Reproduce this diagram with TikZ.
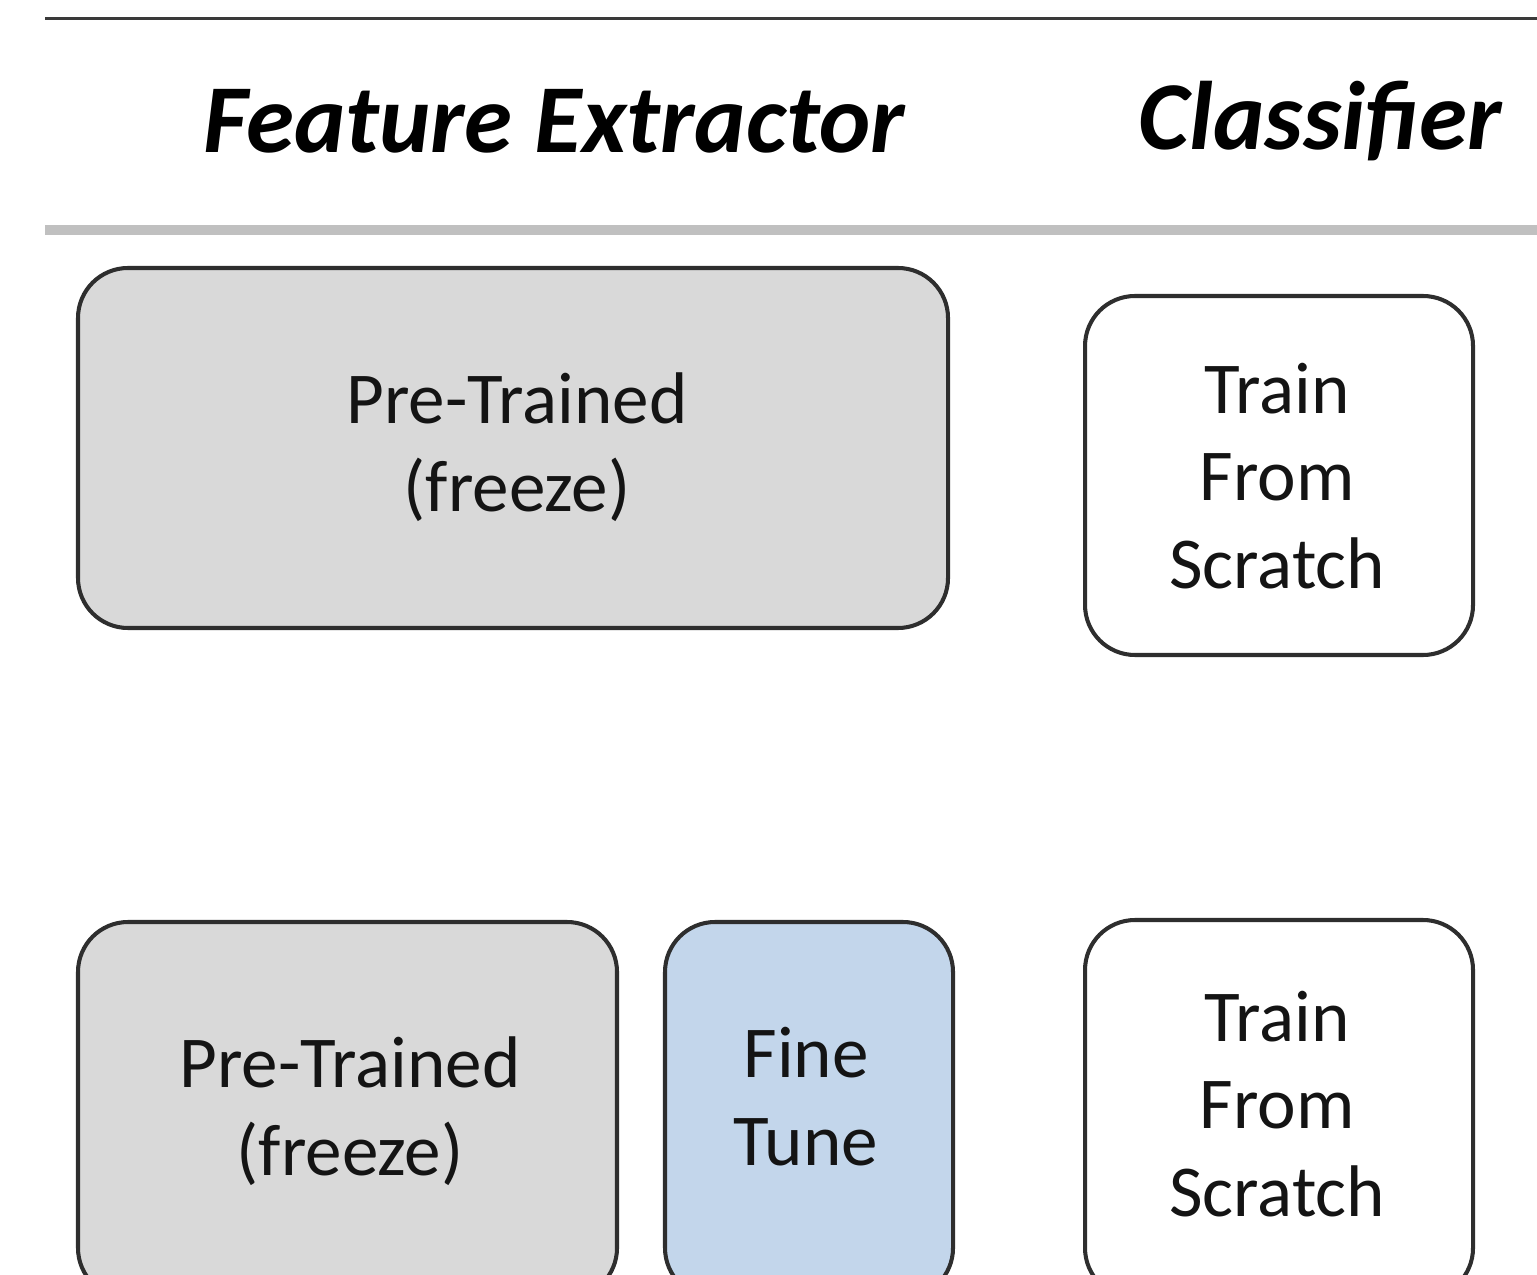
\documentclass[tikz,border=0pt]{standalone}
\usepackage{fontspec}
\setmainfont{Carlito}
\definecolor{ruledark}{HTML}{3A3A3A}
\definecolor{rulelight}{HTML}{C0C0C0}
\definecolor{frozen}{HTML}{D9D9D9}
\definecolor{tuned}{HTML}{C3D6EB}
\definecolor{edge}{HTML}{2E2E2E}
\tikzset{
  block/.style={draw=edge, line width=1.15pt, rounded corners=0.5cm, inner sep=0pt},
  label/.style={font=\fontsize{20.8}{25}\selectfont, align=center, inner sep=0pt, text=black!92},
  head/.style={font=\fontsize{27.7}{30}\selectfont\bfseries\itshape, inner sep=0pt}
}
\begin{document}
\begin{tikzpicture}
\useasboundingbox (0,0) rectangle (15.37,-12.74);
\clip (0,0) rectangle (15.37,-12.74);
% header rules
\draw[ruledark, line width=0.85pt] (0.45,-0.19) -- (15.37,-0.19);
\draw[rulelight, line width=2.9pt] (0.45,-2.30) -- (15.37,-2.30);
% column headings
\node[head] (hfe) at (5.54,-1.21) {Feature Extractor};
\node[head] (hcl) at (13.20,-1.21) {Classifier};
% first row: frozen extractor + new classifier
\node[block, fill=frozen, minimum width=8.70cm, minimum height=3.60cm] (pt1) at (5.13,-4.48) {};
\node[label] (pt1t) at (5.17,-4.47) {Pre-Trained\\(freeze)};
\node[block, fill=white, minimum width=3.88cm, minimum height=3.59cm] (cl1) at (12.79,-4.755) {};
\node[label] (cl1t) at (12.77,-4.76) {Train\\From\\Scratch};
% second row: frozen layers, fine-tuned layers, new classifier
\node[block, fill=frozen, minimum width=5.39cm, minimum height=3.76cm] (pt2) at (3.475,-11.10) {};
\node[label] (pt2t) at (3.50,-11.11) {Pre-Trained\\(freeze)};
\node[block, fill=tuned, minimum width=2.88cm, minimum height=3.76cm] (ft2) at (8.09,-11.10) {};
\node[label] (ft2t) at (8.06,-10.97) {Fine\\Tune};
\node[block, fill=white, minimum width=3.88cm, minimum height=3.78cm] (cl2) at (12.79,-11.09) {};
\node[label] (cl2t) at (12.77,-11.04) {Train\\From\\Scratch};
\end{tikzpicture}
\end{document}
